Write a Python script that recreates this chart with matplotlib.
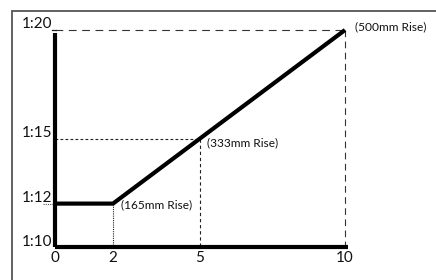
import matplotlib
matplotlib.use("Agg")
import matplotlib.pyplot as plt
from matplotlib.patches import Rectangle
import matplotlib.transforms as mtransforms

# Data
ramp_length = [0, 2, 10]          # x (m)
gradient = [12, 12, 20]           # 1:N
ref_x = [2, 5, 10]
ref_y = [12, 15, 20]
rise_labels = ["(165mm Rise)", "(333mm Rise)", "(500mm Rise)"]
x_ticks = [0, 2, 5, 10]
y_ticks = [10, 12, 15, 20]
y_tick_labels = ["1:10", "1:12", "1:15", "1:20"]

W, H = 436, 280
fig = plt.figure(figsize=(W / 100, H / 100), dpi=100)
plt.rcParams['font.family'] = ['Lato', 'DejaVu Sans']

# pixel mapping: x=0 -> 55px, 29px/unit; y=10 -> 247px, 21.7px/unit
px0, sx = 55.0, 29.0
py0, sy = 247.0, 21.7
ax = fig.add_axes([0, 0, 1, 1])
ax.set_xlim(-px0 / sx, (W - px0) / sx)
ax.set_ylim(10 - (H - py0) / sy, 10 + py0 / sy)
ax.axis('off')

# outer frame
fig.patches.append(Rectangle((12 / W, -0.1), 1.2, (H - 11) / H + 0.1,
                             transform=fig.transFigure, fill=False,
                             edgecolor='#555555', linewidth=1.3))

# reference lines
ax.plot([0, 10], [20, 20], color='#333333', lw=0.8, dashes=(7, 5))
ax.plot([10, 10], [20, 10], color='#333333', lw=0.8, dashes=(6, 4))
ax.plot([0, 5], [15, 15], color='#222222', lw=0.8, dashes=(2.5, 2))
ax.plot([5, 5], [15, 10], color='#222222', lw=0.8, dashes=(3, 2.5))
ax.plot([2, 2], [12, 10], color='#222222', lw=0.8, dashes=(1, 1))
ax.plot([-0.42, 0], [12, 12], color='#555555', lw=0.8, dashes=(1, 1))
ax.plot([-0.12, 0.05], [20, 20], color='#222222', lw=0.9)

# axes lines
ax.plot([0, 0], [10, 19.85], color='black', lw=3.0, solid_capstyle='butt')
ax.plot([0, 10.12], [10, 10], color='black', lw=3.0, solid_capstyle='butt')

# main line
ax.plot(ramp_length, gradient, color='black', lw=3.0,
        solid_capstyle='butt', solid_joinstyle='miter')

# tick labels
off_y = mtransforms.offset_copy(ax.transData, fig=fig, x=-2.5, y=1.5, units='dots')
for yv, lab in zip(y_ticks, y_tick_labels):
    ax.text(0, yv, lab, transform=off_y, ha='right', va='baseline',
            fontsize=11, color='#111111')
off_x = mtransforms.offset_copy(ax.transData, fig=fig, x=0, y=-4, units='dots')
for xv in x_ticks:
    ax.text(xv, 10, str(xv), transform=off_x, ha='center', va='top',
            fontsize=11, color='#111111')

# rise annotations
offs = [(8, -1), (7, -4), (10, 3)]
for (xv, yv, lab, (dx, dy)) in zip(ref_x, ref_y, rise_labels, offs):
    t = mtransforms.offset_copy(ax.transData, fig=fig, x=dx, y=dy, units='dots')
    ax.text(xv, yv, lab, transform=t, ha='left', va='center',
            fontsize=8.6, color='#111111')

fig.savefig("out.png", dpi=100)
